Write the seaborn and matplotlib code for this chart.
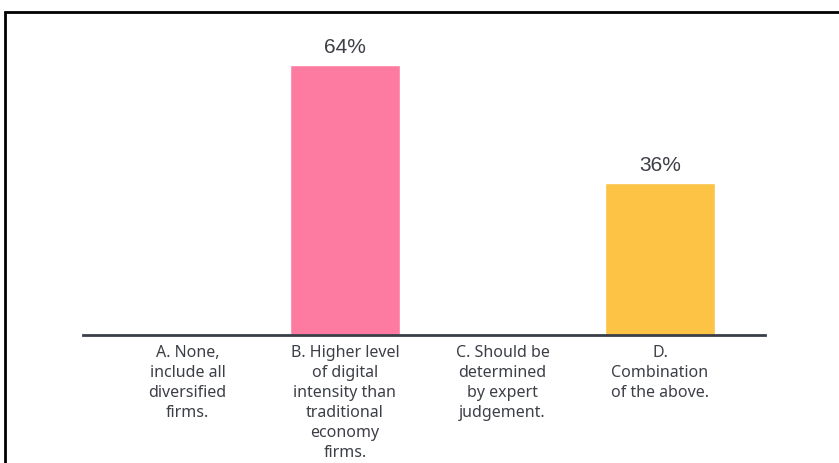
import matplotlib.pyplot as plt
import pandas as pd
import seaborn as sns
from matplotlib.patches import Rectangle

categories = [
    "A. None,\ninclude all\ndiversified\nfirms.",
    "B. Higher level\nof digital\nintensity than\ntraditional\neconomy\nfirms.",
    "C. Should be\ndetermined\nby expert\njudgement.",
    "D.\nCombination\nof the above.",
]
shares = [0, 64, 0, 36]
bar_labels = ["", "64%", "", "36%"]
bar_colors = ["#FD7AA0", "#FD7AA0", "#FD7AA0", "#FCC344"]


def plot_answers():
    df = pd.DataFrame({"answer": categories, "share": shares})

    sns.set_style("white")
    plt.rcParams["font.family"] = ["Noto Sans", "DejaVu Sans"]
    fig = plt.figure(figsize=(8.39, 4.63), dpi=100)
    ax = fig.add_axes([83 / 839, 1 - 335 / 463, (765 - 83) / 839, (335 - 30) / 463])

    sns.barplot(data=df, x="answer", y="share", hue="answer", palette=bar_colors,
                saturation=1, width=0.7, legend=False, ax=ax)

    for bars, label in zip(ax.containers, bar_labels):
        ax.bar_label(bars, labels=[label], padding=6, fontsize=15,
                     color="#3c3f46", family="Liberation Sans")

    ax.set_xlim(-0.663, 3.667)
    ax.set_ylim(0, (335 - 30) / (270 / 64))
    ax.set_xlabel("")
    ax.set_ylabel("")
    ax.set_yticks([])
    ax.tick_params(axis="x", length=0, pad=7.5, labelsize=11.5, labelcolor="#3c3f46")
    for lbl in ax.get_xticklabels():
        lbl.set_linespacing(1.33)
    sns.despine(ax=ax, left=True)
    ax.spines["bottom"].set_color("#3a3f47")
    ax.spines["bottom"].set_linewidth(2)

    # outer frame, clipped at the right and bottom edges
    fig.patches.append(Rectangle((4.5 / 839, -0.05), 1.1, 1 - 12.5 / 463 + 0.05,
                                 transform=fig.transFigure, fill=False,
                                 edgecolor="black", linewidth=2))

    plt.savefig("out.png", dpi=100)
    plt.close()


if __name__ == "__main__":
    plot_answers()
